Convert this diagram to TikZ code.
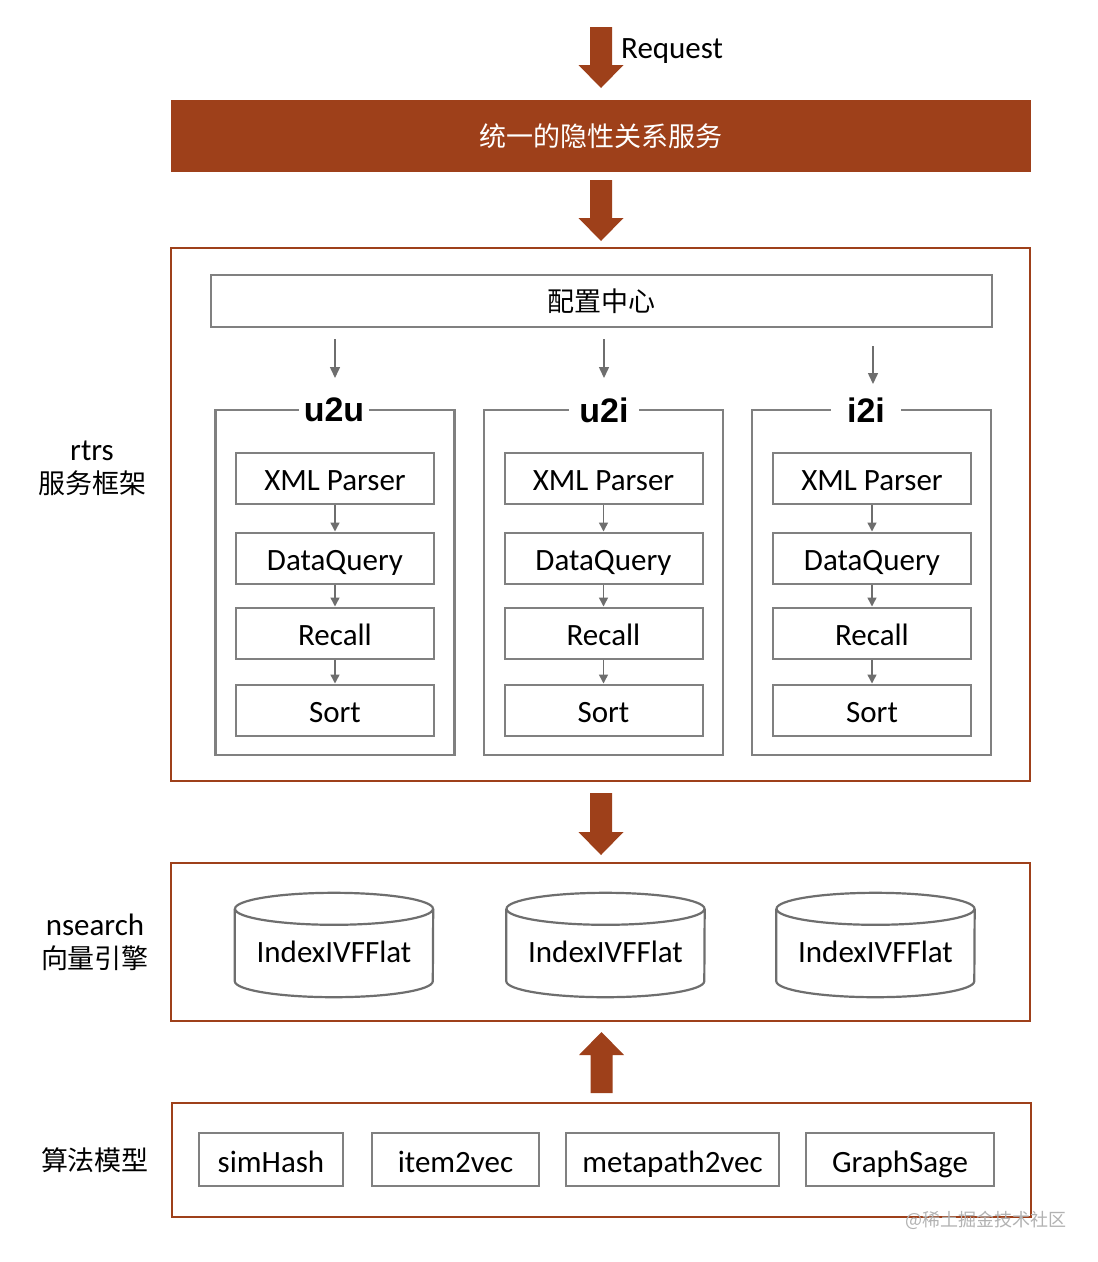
\documentclass[tikz,border=0pt]{standalone}
\usepackage{fontspec}
\setmainfont{Carlito}
\newfontfamily\cjk{Noto Sans CJK SC}
\newfontfamily\arialb{Liberation Sans}
\usetikzlibrary{arrows.meta,calc}
\definecolor{rustc}{RGB}{158,64,26}
\definecolor{boxgray}{RGB}{128,128,128}
\definecolor{arrgray}{RGB}{110,110,110}
\newcommand\barrowdown[3]{\fill[rustc] ({#1-11},{-#2}) -- ({#1+11},{-#2}) -- ({#1+11},{-(#3-23)}) -- ({#1+22.5},{-(#3-23)}) -- ({#1},{-#3}) -- ({#1-22.5},{-(#3-23)}) -- ({#1-11},{-(#3-23)}) -- cycle;}
\newcommand\barrowup[3]{\fill[rustc] ({#1-11},{-#3}) -- ({#1+11},{-#3}) -- ({#1+11},{-(#2+23)}) -- ({#1+22.5},{-(#2+23)}) -- ({#1},{-#2}) -- ({#1-22.5},{-(#2+23)}) -- ({#1-11},{-(#2+23)}) -- cycle;}
\tikzset{
  en/.style={font=\fontsize{31}{33}\selectfont},
  cn/.style={font=\cjk\fontsize{27}{33}\selectfont},
  outerbox/.style={draw=rustc, line width=2.5pt, inner sep=0pt},
  stepbox/.style={draw=boxgray, line width=2pt, minimum width=198pt, minimum height=51pt, inner sep=0pt, en, text height=28pt, text depth=4pt},
  groupbox/.style={draw=boxgray, line width=2.5pt, minimum width=239pt, minimum height=345pt, inner sep=0pt},
  grouptitle/.style={fill=white, minimum width=70pt, inner sep=0pt, font=\arialb\bfseries\fontsize{34}{36}\selectfont},
  arr/.style={draw=arrgray, line width=1.5pt, -{Triangle[width=10pt,length=11pt]}},
  iarr/.style={draw=arrgray, line width=1.5pt, -{Triangle[width=9pt,length=9pt]}},
  cylline/.style={draw=arrgray, line width=2.2pt},
  algobox/.style={draw=boxgray, line width=2pt, minimum height=53pt, inner sep=0pt, en, text height=29pt, text depth=4pt},
}
\begin{document}
\begin{tikzpicture}[x=1pt,y=1pt]
\useasboundingbox[fill=white] (0,0) rectangle (1098,-1262);

% request arrow
\barrowdown{601}{27}{88}
\node[en, anchor=base west, inner sep=0pt] (req) at (621,-58.5) {Request};

% banner
\node[fill=rustc, minimum width=860pt, minimum height=72pt, inner sep=0pt, cn, text=white] (banner) at (601,-136) {统一的隐性关系服务};
\barrowdown{601}{180}{241}

% rtrs frame
\node[outerbox, minimum width=859pt, minimum height=533pt] (rtrs) at (600.5,-514.5) {};
\node[align=center, en] (rtrsl) at (92,-468) {rtrs\\{\cjk\fontsize{27}{33}\selectfont 服务框架}};

\node[draw=boxgray, line width=2.5pt, minimum width=781pt, minimum height=52pt, inner sep=0pt, cn] (cfg) at (601.5,-301) {配置中心};

% groups
\foreach \g/\cx/\tx/\ttl in {1/335/334/u2u, 2/603.5/604/u2i, 3/871.5/866/i2i}{
  \node[groupbox] (g\g) at (\cx,-582.5) {};
  \node[grouptitle] (t\g) at (\tx,-410) {\ttl};
}
\coordinate (a1s) at (335,-339);  \coordinate (a1e) at (335,-378);
\coordinate (a2s) at (604,-339);  \coordinate (a2e) at (604,-378);
\coordinate (a3s) at (873,-346);  \coordinate (a3e) at (873,-384);
\foreach \g in {1,2,3}{ \draw[arr] (a\g s) -- (a\g e); }

\foreach \g/\cx in {1/335, 2/603.5, 3/872}{
  \node[stepbox] (x\g) at (\cx,-478.5) {XML Parser};
  \node[stepbox] (d\g) at (\cx,-558) {DataQuery};
  \node[stepbox] (r\g) at (\cx,-633) {Recall};
  \node[stepbox] (s\g) at (\cx,-710) {Sort};
  \draw[iarr] (x\g.south) -- (d\g.north);
  \draw[iarr] (d\g.south) -- (r\g.north);
  \draw[iarr] (r\g.south) -- (s\g.north);
}

\barrowdown{601}{793}{855}

% nsearch
\node[outerbox, minimum width=859pt, minimum height=158pt] (ns) at (600.5,-942) {};
\node[align=center, en] (nsl) at (95,-942) {nsearch\\{\cjk\fontsize{27}{33}\selectfont 向量引擎}};

\foreach \c/\cx in {1/334, 2/605.5, 3/875.5}{
  \node[minimum width=198pt, minimum height=104pt, inner sep=0pt] (c\c) at (\cx,-945) {};
  \draw[cylline] ($(c\c.north west)+(0,-16)$) -- ($(c\c.south west)+(0,16)$)
     arc[start angle=180, end angle=360, x radius=99pt, y radius=16pt]
     -- ($(c\c.north east)+(0,-16)$);
  \draw[cylline] ($(c\c.north)+(0,-16)$) ellipse[x radius=99pt, y radius=16pt];
  \node[en] (ct\c) at (\cx,-952) {IndexIVFFlat};
}

\barrowup{601.5}{1032}{1093}

% algorithms
\node[outerbox, minimum width=859pt, minimum height=114pt] (algo) at (601.5,-1160) {};
\node[cn] (algol) at (95,-1160) {算法模型};
\node[algobox, minimum width=144pt] (b1) at (271,-1159.5) {simHash};
\node[algobox, minimum width=167pt] (b2) at (455.5,-1159.5) {item2vec};
\node[algobox, minimum width=213pt] (b3) at (672.5,-1159.5) {metapath2vec};
\node[algobox, minimum width=188pt] (b4) at (900,-1159.5) {GraphSage};

\node[font=\cjk\fontsize{18}{20}\selectfont, text=black!30] (wm) at (986,-1220) {@稀土掘金技术社区};
\end{tikzpicture}
\end{document}
